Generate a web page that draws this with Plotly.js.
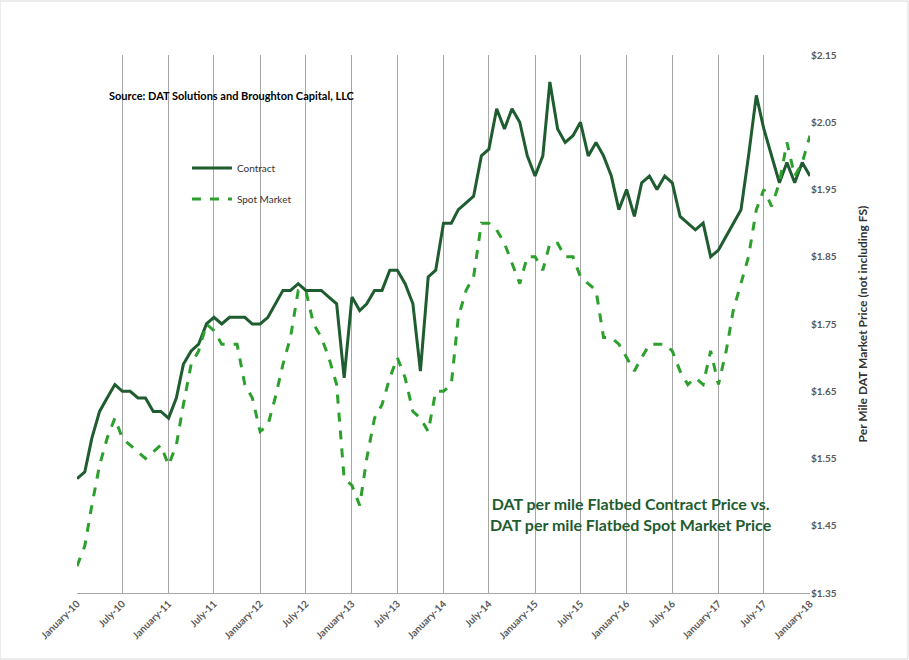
<!DOCTYPE html>
<html><head><meta charset="utf-8">
<script src="https://cdn.plot.ly/plotly-3.0.1.min.js"></script>
<style>html,body{margin:0;padding:0;background:#fff}#c{width:909px;height:660px}</style>
</head><body><div id="c"></div>
<script>
// monthly Jan-2010 .. Jan-2018
const contract = [1.52,1.53,1.58,1.62,1.64,1.66,1.65,1.65,1.64,1.64,1.62,1.62,
1.61,1.64,1.69,1.71,1.72,1.75,1.76,1.75,1.76,1.76,1.76,1.75,
1.75,1.76,1.78,1.80,1.80,1.81,1.80,1.80,1.80,1.79,1.78,1.67,
1.79,1.77,1.78,1.80,1.80,1.83,1.83,1.81,1.78,1.68,1.82,1.83,
1.90,1.90,1.92,1.93,1.94,2.00,2.01,2.07,2.04,2.07,2.05,2.00,
1.97,2.00,2.11,2.04,2.02,2.03,2.05,2.00,2.02,2.00,1.97,1.92,
1.95,1.91,1.96,1.97,1.95,1.97,1.96,1.91,1.90,1.89,1.90,1.85,
1.86,1.88,1.90,1.92,2.00,2.09,2.04,2.00,1.96,1.99,1.96,1.99,1.97];
const spot = [1.39,1.42,1.48,1.54,1.58,1.61,1.58,1.57,1.56,1.55,1.56,1.57,
1.54,1.57,1.63,1.69,1.71,1.75,1.74,1.72,1.72,1.72,1.66,1.64,
1.59,1.60,1.64,1.69,1.73,1.80,1.80,1.75,1.73,1.70,1.66,1.52,
1.51,1.48,1.55,1.61,1.63,1.67,1.70,1.67,1.62,1.61,1.59,1.65,
1.65,1.66,1.76,1.80,1.82,1.90,1.90,1.89,1.87,1.84,1.81,1.85,
1.85,1.83,1.87,1.87,1.85,1.85,1.82,1.81,1.80,1.73,1.73,1.72,
1.70,1.68,1.70,1.72,1.72,1.72,1.71,1.68,1.66,1.67,1.66,1.71,
1.66,1.71,1.77,1.81,1.85,1.92,1.95,1.925,1.96,2.02,1.97,1.99,2.03];
const months = [];
for (let y=2010;y<=2018;y++) for (let m=1;m<=12;m++){ if(y===2018&&m>1)break; months.push(y+"-"+String(m).padStart(2,"0")+"-01"); }
const tickVals=[], tickText=[];
for (let y=2010;y<=2018;y++){ tickVals.push(y+"-01-01"); tickText.push("<b>January-"+String(y).slice(2)+"</b>"); if(y<2018){tickVals.push(y+"-07-01"); tickText.push("<b>July-"+String(y).slice(2)+"</b>");}}
const yTicks=[1.35,1.45,1.55,1.65,1.75,1.85,1.95,2.05,2.15];
const F="Lato, 'Liberation Sans', sans-serif";
Plotly.newPlot("c",[
 {x:months,y:contract,name:"Contract",legendgroup:"a",mode:"lines",line:{color:"#1f5c30",width:3}},
 {x:months,y:spot,name:"Spot Market",legendgroup:"b",mode:"lines",line:{color:"#2ca02c",width:3,dash:"dash"}}
],{
 width:909,height:660,margin:{l:77,r:99,t:55,b:67},
 paper_bgcolor:"#fff",plot_bgcolor:"#fff",
 font:{family:F,color:"#595959"},
 showlegend:true,
 legend:{x:0.15,y:0.817,xanchor:"left",yanchor:"top",bgcolor:"rgba(0,0,0,0)",font:{size:10,color:"#333",family:F},tracegroupgap:12,itemwidth:40},
 xaxis:{type:"date",range:["2010-01-01","2018-01-01"],tickvals:tickVals,ticktext:tickText,tickangle:-45,
   showgrid:true,gridcolor:"#a6a6a6",gridwidth:1,zeroline:false,showline:true,linecolor:"#a6a6a6",
   tickfont:{size:10,color:"#595959",family:F},ticks:""},
 yaxis:{side:"right",range:[1.35,2.15],tickvals:yTicks,ticktext:yTicks.map(v=>"<b>$"+v.toFixed(2)+"</b>"),
   showgrid:false,zeroline:false,showline:false,tickfont:{size:10,color:"#595959",family:F},ticks:"",
   title:{text:"<b>Per Mile DAT Market Price (not including FS)</b>",font:{size:12,color:"#333",family:F},standoff:22}},
 annotations:[
  {xref:"paper",yref:"paper",x:(107-77)/733,y:(593-95)/538,xanchor:"left",yanchor:"middle",showarrow:false,
   text:"<b>Source: DAT Solutions and Broughton Capital, LLC</b>",font:{size:11,color:"#000",family:F}},
  {xref:"paper",yref:"paper",x:(631-77)/733,y:(593-514)/538,xanchor:"center",yanchor:"middle",showarrow:false,
   text:"<b>DAT per mile Flatbed Contract Price vs.<br>DAT per mile Flatbed Spot Market Price</b>",font:{size:16,color:"#1f5c30",family:F}}
 ],
 shapes:[{type:"rect",xref:"paper",yref:"paper",x0:-77/733,x1:(908-77)/733,y0:-66/538,y1:592/538,line:{color:"#d9d9d9",width:1}}]
},{displayModeBar:false});
</script></body></html>
